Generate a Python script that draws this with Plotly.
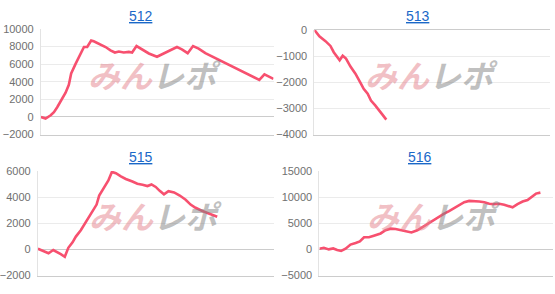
import plotly.graph_objects as go

titles = ["512", "513", "515", "516"]

x512 = [0, 2.0, 4.2, 5.6, 7.0, 8.5, 10.6, 12.0, 13.0, 14.9, 17.0, 18.5, 19.9, 21.6, 22.7, 24.9,
        27.8, 29.9, 31.8, 33.5, 35.6, 37.8, 39.2, 41.1, 43.5, 46.4, 49.9, 52.8, 55.7, 58.5,
        60.6, 63.1, 65.4, 67.8, 70.7, 73.5, 76.4, 79.3, 82.1, 85.0, 87.9, 91.4, 93.9, 96.1, 97.9, 100]
y512 = [0, -180, 190, 550, 1100, 1830, 2750, 3660, 4950, 6040, 7140, 7950, 7950, 8680, 8600, 8320,
        7950, 7580, 7330, 7440, 7330, 7400, 7330, 8060, 7690, 7220, 6850, 7220, 7580, 7950,
        7690, 7250, 8060, 7770, 7250, 6890, 6480, 6150, 5750, 5380, 5020, 4580, 4210, 4840, 4580, 4320]

x513 = [0, 2.1, 4.7, 6.8, 8.2, 9.6, 10.7, 12.0, 13.4, 15.3, 17.4, 19.5, 20.9, 22.6, 24.0, 25.8, 27.3, 28.7, 30.5]
y513 = [0, -245, -427, -610, -850, -1035, -1160, -985, -1095, -1400, -1670, -2010, -2250, -2435,
        -2700, -2885, -3040, -3220, -3430]

x515 = [0, 2.0, 4.5, 6.5, 8.3, 9.7, 11.4, 12.9, 14.7, 16.1, 18.2, 20.3, 22.5, 24.9, 26.0, 28.1, 29.9,
        31.4, 33.1, 35.2, 37.3, 40.1, 42.2, 44.4, 46.5, 48.2, 50.0, 51.7, 53.5, 55.4, 57.8, 60.2,
        62.7, 64.8, 66.9, 69.8, 72.6, 76.1]
y515 = [49, -122, -294, -49, -196, -367, -563, 122, 539, 980, 1470, 2080, 2740, 3430, 4120, 4780, 5270,
        5930, 5830, 5590, 5390, 5190, 5020, 4950, 4850, 4970, 4780, 4480, 4210, 4460, 4360, 4120,
        3800, 3430, 3185, 2940, 2740, 2500]

x516 = [0, 1.9, 4.0, 5.9, 7.6, 9.3, 11.2, 13.3, 15.5, 17.3, 19.1, 21.2, 23.3, 26.2, 28.3, 30.5, 32.6,
        34.8, 36.9, 39.4, 41.9, 44.5, 47.0, 49.1, 51.2, 53.4, 55.5, 57.7, 59.8, 62.0, 64.1, 66.3,
        68.4, 70.6, 72.7, 74.8, 77.0, 79.1, 81.3, 82.7, 84.8, 87.0, 89.1, 91.3, 92.7, 94.6]
y516 = [120, 300, 0, 180, -120, -300, 120, 915, 1220, 1525, 2320, 2320, 2620, 3050, 3660, 3965, 3900,
        3660, 3355, 3230, 3660, 4390, 5060, 5670, 6280, 6830, 7320, 7930, 8420, 9030, 9270, 9270,
        9150, 9030, 8720, 8660, 8720, 8540, 8235, 8050, 8660, 9150, 9455, 10250, 10675, 10860]

y_ranges = [[-2000, 10000], [-4000, 0], [-2000, 6000], [-5000, 15000]]
y_dticks = [2000, 1000, 2000, 5000]

series = [(x512, y512), (x513, y513), (x515, y515), (x516, y516)]

W, H = 555, 294
# plot boxes in pixels: (left, right, top, bottom)
boxes = [(40, 273, 24, 134), (314, 550, 25, 134), (37, 273, 172, 281), (319, 553, 172, 281)]
title_pos = [(140, 10), (418, 10), (140, 157), (420, 157)]
mark_pos = [(154, 71), (431, 71), (155, 218), (433, 218)]

LINE = "#f7506f"
fig = go.Figure()
layout = dict(
    width=W, height=H, margin=dict(l=0, r=0, t=0, b=0),
    paper_bgcolor="white", plot_bgcolor="white", showlegend=False,
    font=dict(family="Liberation Sans, Arial, sans-serif", size=11, color="#666666"),
)
annotations = []
for i, ((xs, ys), (l, r, t, b)) in enumerate(zip(series, boxes)):
    n = "" if i == 0 else str(i + 1)
    fig.add_trace(go.Scatter(x=xs, y=ys, mode="lines", line=dict(color=LINE, width=2.6),
                             xaxis="x" + n, yaxis="y" + n, hoverinfo="skip"))
    layout["xaxis" + n] = dict(domain=[l / W, r / W], range=[0, 100], showgrid=False,
                               zeroline=False, showticklabels=False, showline=True,
                               linecolor="#cccccc", linewidth=1, anchor="y" + n, fixedrange=True)
    layout["yaxis" + n] = dict(domain=[1 - b / H, 1 - t / H], range=y_ranges[i], dtick=y_dticks[i],
                               tickformat="d",
                               showgrid=True, gridcolor="#ebebeb", gridwidth=1,
                               zeroline=True, zerolinecolor="#cccccc", zerolinewidth=1,
                               showline=True, linecolor="#e3e3e3", linewidth=1,
                               ticks="outside", ticklen=4, tickcolor="rgba(0,0,0,0)",
                               tickfont=dict(size=11, color="#707070"),
                               anchor="x" + n, fixedrange=True)
    tx, ty = title_pos[i]
    annotations.append(dict(
        x=tx / W, y=1 - ty / H, xref="paper", yref="paper", showarrow=False,
        text='<span style="text-decoration:underline">' + titles[i] + '</span>',
        font=dict(size=14, color="#1a68c8", family="Liberation Sans, Arial, sans-serif"),
        xanchor="center", yanchor="middle"))
    mx, my = mark_pos[i]
    annotations.append(dict(
        x=mx / W, y=1 - my / H, xref="paper", yref="paper", showarrow=False,
        text='<b><i><span style="color:rgba(228,130,140,0.5)">みん</span>'
             '<span style="color:rgba(130,130,130,0.5)">レポ</span></i></b>',
        font=dict(size=32, family="Noto Sans CJK JP"),
        xanchor="center", yanchor="middle"))
layout["annotations"] = annotations
fig.update_layout(**layout)
fig.write_html("out.html")
